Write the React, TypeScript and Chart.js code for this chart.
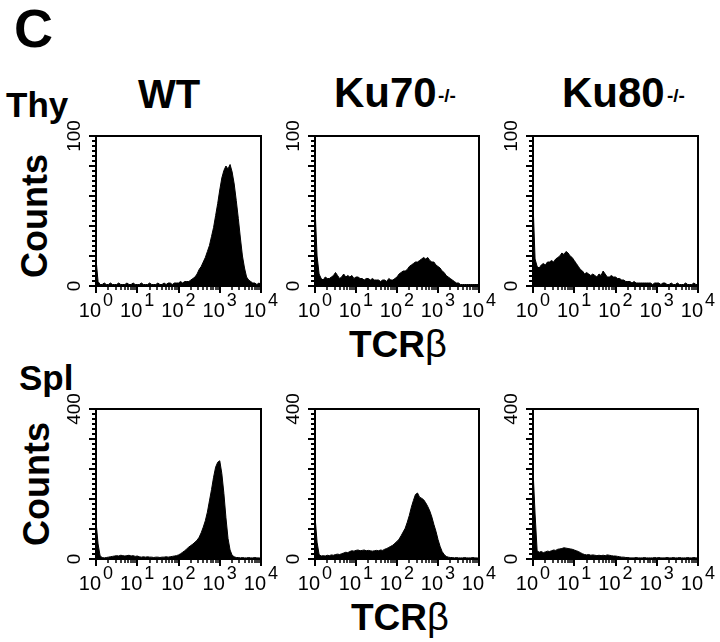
import React, { useEffect, useRef } from "react";
import { Chart, registerables } from "chart.js";

Chart.register(...registerables);

// ---------- data ----------
// channel bins: one value every 0.05 decade, from 10^0 to 10^4 (81 bins)
const BIN_STEP = 0.05;
const DECADE_EXPONENTS = ["0", "1", "2", "3", "4"];
const THY_Y_TICKS = [0, 100];
const SPL_Y_TICKS = [0, 400];
const COLUMN_TITLES = ["WT", "Ku70", "Ku80"];
const ROW_TITLES = ["Thy", "Spl"];

const thyWT = [
  18, 3, 1, 1, 2, 1, 1, 2, 1, 1,
  1, 2, 1, 1, 1, 2, 1, 1, 2, 1,
  1, 1, 2, 1, 1, 1, 2, 1, 1, 1,
  2, 1, 1, 2, 1, 2, 2, 1, 2, 2,
  2, 3, 2, 3, 3, 3, 4, 5, 6, 8,
  11, 13, 16, 19, 23, 27, 33, 39, 47, 55,
  64, 72, 77, 80, 78, 81, 76, 68, 57, 45,
  32, 20, 12, 6, 4, 3, 2, 2, 1, 2,
  1,
];
const thyKu70 = [
  53, 20, 8, 5, 4, 6, 5, 5, 6, 7,
  9, 7, 5, 6, 8, 6, 7, 6, 7, 5,
  6, 6, 5, 5, 4, 5, 5, 4, 5, 4,
  4, 4, 3, 4, 4, 3, 5, 4, 4, 5,
  6, 8, 9, 10, 10, 11, 13, 14, 15, 16,
  16, 17, 18, 19, 18, 19, 17, 16, 16, 14,
  13, 12, 10, 9, 7, 6, 5, 4, 3, 2,
  2, 1, 1, 1, 1, 1, 1, 1, 1, 1,
  1,
];
const thyKu80 = [
  56, 18, 13, 12, 14, 15, 14, 16, 16, 17,
  16, 18, 19, 20, 22, 21, 23, 22, 20, 19,
  17, 15, 13, 11, 10, 8, 9, 8, 7, 8,
  7, 6, 8, 7, 10, 8, 6, 6, 7, 6,
  6, 5, 5, 4, 4, 3, 3, 3, 2, 3,
  2, 2, 2, 2, 2, 2, 2, 2, 1, 2,
  2, 2, 1, 2, 2, 1, 1, 2, 1, 1,
  2, 1, 1, 1, 2, 1, 1, 1, 2, 1,
  1,
];
const splWT = [
  100, 40, 8, 4, 3, 4, 5, 6, 7, 8,
  9, 8, 10, 9, 8, 9, 10, 8, 9, 7,
  8, 6, 5, 6, 5, 6, 5, 5, 4, 5,
  5, 4, 5, 5, 6, 5, 6, 7, 8, 9,
  11, 14, 18, 22, 27, 32, 36, 40, 45, 50,
  58, 70, 85, 102, 125, 155, 185, 218, 245, 258,
  262, 228, 175, 110, 55, 24, 10, 6, 4, 4,
  3, 4, 3, 3, 4, 3, 3, 4, 3, 3,
  2,
];
const splKu70 = [
  115, 45, 12, 8, 9, 8, 10, 9, 11, 10,
  12, 13, 12, 14, 16, 18, 17, 20, 22, 21,
  23, 24, 22, 23, 24, 22, 23, 22, 21, 22,
  23, 22, 24, 23, 26, 28, 31, 34, 37, 42,
  47, 53, 62, 72, 82, 98, 116, 138, 156, 172,
  176, 165, 162, 158, 150, 140, 128, 112, 92, 74,
  52, 34, 20, 12, 7, 5, 4, 4, 3, 4,
  3, 3, 3, 4, 3, 3, 3, 4, 3, 3,
  2,
];
const splKu80 = [
  240, 120, 22, 18, 20, 17, 19, 21, 20, 22,
  24, 23, 26, 27, 28, 30, 29, 28, 27, 26,
  24, 22, 20, 17, 14, 12, 11, 12, 10, 11,
  10, 9, 10, 9, 10, 9, 11, 10, 9, 8,
  8, 7, 6, 5, 5, 4, 4, 3, 3, 3,
  4, 3, 3, 3, 4, 3, 3, 3, 3, 4,
  3, 4, 3, 3, 3, 4, 3, 3, 4, 3,
  3, 4, 3, 3, 3, 4, 3, 3, 4, 3,
  3,
];

// ---------- layout ----------
const COLS = [
  { left: 96, width: 165 },
  { left: 315, width: 164 },
  { left: 533, width: 165 },
];
const ROWS = [{ top: 136, height: 150 }, { top: 409, height: 150 }];
const PAD = { l: 46, t: 22, r: 24, b: 40 };
const FONT = '"Liberation Sans", Arial, Helvetica, sans-serif';
const Y_RULER_DIVISIONS = 30;

const axisPlugin = {
  id: "facsAxes",
  afterDraw(chart: any, _args: any, opts: any) {
    const { ctx, chartArea: a, scales } = chart;
    const xs = scales.x;
    const ys = scales.y;
    const yTicks: number[] = opts.yTicks;
    const L = Math.round(a.left);
    const B = Math.round(a.bottom);
    ctx.save();
    ctx.fillStyle = "#000";
    ctx.strokeStyle = "#000";
    // frame
    ctx.lineWidth = 2;
    ctx.strokeRect(a.left, a.top, a.right - a.left, a.bottom - a.top);
    // y ruler ticks (evenly spaced along the counts axis), outside left
    for (let j = 0; j <= Y_RULER_DIVISIONS; j++) {
      const py = Math.round(a.bottom - ((a.bottom - a.top) * j) / Y_RULER_DIVISIONS);
      const len = j % 6 === 0 ? 7 : 4;
      ctx.fillRect(L - len, py - 1, len, 2);
    }
    // x ticks (log decades), outside bottom
    for (let d = 0; d < DECADE_EXPONENTS.length; d++) {
      const px = Math.round(xs.getPixelForValue(d));
      ctx.fillRect(px - 1, B, 2, 7);
      if (d < DECADE_EXPONENTS.length - 1) {
        for (let k = 2; k <= 9; k++) {
          const mx = Math.round(xs.getPixelForValue(d + Math.log10(k)));
          ctx.fillRect(mx - 0.75, B, 1.5, 4);
        }
      }
    }
    // x tick labels 10^n
    ctx.textBaseline = "alphabetic";
    ctx.textAlign = "left";
    DECADE_EXPONENTS.forEach((e, d) => {
      const px = xs.getPixelForValue(d);
      ctx.font = `20px ${FONT}`;
      const wb = ctx.measureText("10").width;
      ctx.font = `18px ${FONT}`;
      const we = ctx.measureText(e).width;
      const gap = 2;
      const x0 = px - (wb + gap + we) / 2;
      ctx.font = `20px ${FONT}`;
      ctx.fillText("10", x0, a.bottom + 31);
      ctx.font = `18px ${FONT}`;
      ctx.fillText(e, x0 + wb + gap, a.bottom + 20);
    });
    // y tick labels, rotated
    ctx.font = `19px ${FONT}`;
    ctx.textAlign = "center";
    ctx.textBaseline = "middle";
    yTicks.forEach((v) => {
      const py = ys.getPixelForValue(v);
      ctx.save();
      ctx.translate(a.left - 21, py);
      ctx.rotate(-Math.PI / 2);
      ctx.fillText(String(v), 0, 0);
      ctx.restore();
    });
    ctx.restore();
  },
};

function Histogram({ values, ymax, yTicks, col, row }: any) {
  const ref = useRef<HTMLCanvasElement | null>(null);
  const c = COLS[col];
  const r = ROWS[row];
  const w = c.width + PAD.l + PAD.r;
  const h = r.height + PAD.t + PAD.b;
  useEffect(() => {
    if (!ref.current) return;
    const chart = new Chart(ref.current, {
      type: "line",
      data: {
        datasets: [
          {
            data: values.map((v: number, i: number) => ({ x: i * BIN_STEP, y: v })),
            borderColor: "#000",
            backgroundColor: "#000",
            borderWidth: 1,
            fill: "origin",
            pointRadius: 0,
            tension: 0,
          },
        ],
      },
      options: {
        animation: false,
        responsive: false,
        maintainAspectRatio: false,
        devicePixelRatio: 1,
        layout: { padding: { left: PAD.l, top: PAD.t, right: PAD.r, bottom: PAD.b } },
        scales: {
          x: { type: "linear", min: 0, max: DECADE_EXPONENTS.length - 1, display: false },
          y: { type: "linear", min: 0, max: ymax, display: false },
        },
        plugins: {
          legend: { display: false },
          tooltip: { enabled: false },
          facsAxes: { yTicks },
        } as any,
      },
      plugins: [axisPlugin],
    } as any);
    return () => chart.destroy();
  }, [values, ymax, yTicks]);
  return (
    <canvas
      ref={ref}
      width={w}
      height={h}
      style={{ position: "absolute", left: c.left - PAD.l, top: r.top - PAD.t, width: w, height: h }}
    />
  );
}

function Txt({ children, left, baseline, size, weight = "bold", center = false, style = {} }: any) {
  return (
    <div
      style={{
        position: "absolute",
        left,
        top: baseline - 0.8465 * size,
        fontSize: size,
        lineHeight: `${size}px`,
        fontWeight: weight,
        whiteSpace: "nowrap",
        transform: center ? "translateX(-50%)" : undefined,
        ...style,
      }}
    >
      {children}
    </div>
  );
}

function Vertical({ text, cx, cy, size }: any) {
  return (
    <div
      style={{
        position: "absolute",
        left: cx,
        top: cy,
        fontSize: size,
        lineHeight: `${size}px`,
        fontWeight: "bold",
        whiteSpace: "nowrap",
        transform: "translate(-50%, -50%) rotate(-90deg)",
      }}
    >
      {text}
    </div>
  );
}

function TCRb({ left, baseline }: any) {
  return (
    <Txt left={left} baseline={baseline} size={37}>
      TCR<span style={{ fontWeight: "normal", fontSize: 38 }}>β</span>
    </Txt>
  );
}

export default function App() {
  return (
    <div
      style={{
        position: "absolute",
        left: 0,
        top: 0,
        width: 720,
        height: 642,
        background: "#fff",
        color: "#000",
        fontFamily: FONT,
        overflow: "hidden",
      }}
    >
      <Txt left={14} baseline={47} size={54}>C</Txt>
      <Txt left={6} baseline={117} size={35}>{ROW_TITLES[0]}</Txt>
      <Txt left={169} baseline={108} size={40} center>{COLUMN_TITLES[0]}</Txt>
      <Txt left={334} baseline={108} size={42}>{COLUMN_TITLES[1]}</Txt>
      <Txt left={438} baseline={102} size={19}>-/-</Txt>
      <Txt left={562} baseline={108} size={42}>{COLUMN_TITLES[2]}</Txt>
      <Txt left={667} baseline={102} size={19}>-/-</Txt>
      <Vertical text="Counts" cx={35} cy={216} size={36} />
      <TCRb left={349} baseline={357} />
      <Txt left={19} baseline={390} size={35}>{ROW_TITLES[1]}</Txt>
      <Vertical text="Counts" cx={37} cy={484} size={36} />
      <TCRb left={351} baseline={630} />

      <Histogram values={thyWT} ymax={100} yTicks={THY_Y_TICKS} col={0} row={0} />
      <Histogram values={thyKu70} ymax={100} yTicks={THY_Y_TICKS} col={1} row={0} />
      <Histogram values={thyKu80} ymax={100} yTicks={THY_Y_TICKS} col={2} row={0} />
      <Histogram values={splWT} ymax={400} yTicks={SPL_Y_TICKS} col={0} row={1} />
      <Histogram values={splKu70} ymax={400} yTicks={SPL_Y_TICKS} col={1} row={1} />
      <Histogram values={splKu80} ymax={400} yTicks={SPL_Y_TICKS} col={2} row={1} />
    </div>
  );
}
